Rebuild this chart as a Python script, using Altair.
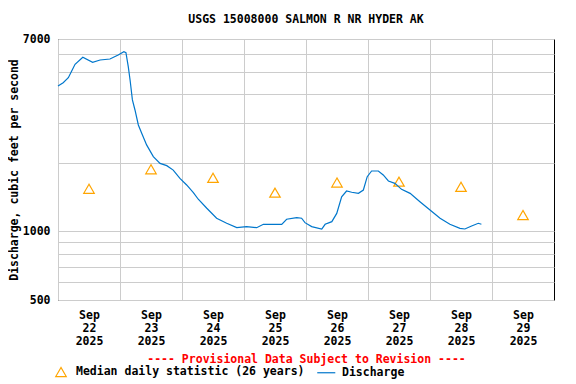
import altair as alt
import pandas as pd

FONT = "DejaVu Sans Mono"
MED = "Median daily statistic (26 years)"
DIS = "Discharge"

# Discharge (cfs): hours after 2025-09-22 00:00 and values
hours = [0, 2.0, 4.0, 5.3, 6.6, 9.6, 13.4, 16.3, 20.1, 23.3,
         25.5, 26.3, 27.2, 27.9, 28.8, 29.8, 31.1, 32.4, 34.3, 36.9,
         39.5, 42.1, 44.6, 47.2, 49.8, 52.4, 54.3, 57.6, 61.4, 65.3,
         69.2, 73.0, 76.9, 79.5, 86.6, 88.5, 92.4, 94.3, 95.6, 98.2,
         102.1, 103.4, 106.0, 107.9, 109.8, 111.7, 113.7, 116.3, 118.2, 119.7,
         121.4, 124.0, 125.9, 127.9, 130.4, 133.0, 136.3, 140.1, 144.0, 147.9,
         151.7, 155.6, 157.5, 160.1, 162.7, 163.9]
discharge = [4350, 4500, 4735, 5065, 5420, 5820, 5530, 5660, 5720, 5955,
             6160, 6095, 5290, 4625, 3780, 3415, 2935, 2700, 2400, 2130,
             1990, 1945, 1860, 1710, 1600, 1480, 1385, 1264, 1143, 1086,
             1039, 1050, 1039, 1075, 1075, 1131, 1149, 1143, 1093, 1050,
             1025, 1075, 1104, 1200, 1420, 1505, 1486, 1470, 1520, 1740,
             1843, 1843, 1770, 1666, 1627, 1531, 1470, 1351, 1242, 1143,
             1075, 1032, 1025, 1057, 1086, 1075]

# Median daily statistic, at noon of each day
median_days = [22, 23, 24, 25, 26, 27, 28, 29]
median_vals = [1540, 1875, 1720, 1480, 1640, 1655, 1570, 1180]

y_grid = [500, 600, 700, 800, 900, 1000, 2000, 3000, 4000, 5000, 6000, 7000]
y_labels = [500, 1000, 7000]
x_days = [22, 23, 24, 25, 26, 27, 28, 29]

start = pd.Timestamp("2025-09-22 00:00")
df_q = pd.DataFrame({
    "time": [start + pd.Timedelta(hours=h) for h in hours],
    "value": discharge,
    "series": DIS,
})
df_m = pd.DataFrame({
    "time": [pd.Timestamp(2025, 9, d, 12) for d in median_days],
    "value": median_vals,
    "series": MED,
})

x_enc = alt.X(
    "time:T",
    scale=alt.Scale(domain=[alt.DateTime(year=2025, month=9, date=22),
                            alt.DateTime(year=2025, month=9, date=30)]),
    axis=alt.Axis(
        values=[alt.DateTime(year=2025, month=9, date=d) for d in x_days],
        labelExpr="[timeFormat(datum.value, '%b'), timeFormat(datum.value, '%d'), timeFormat(datum.value, '%Y')]",
        labelOffset=31, labelPadding=9, labelLineHeight=13,
        labelFlush=False, labelOverlap=False, labelBound=False,
        ticks=False, domain=False, grid=True,
        title="---- Provisional Data Subject to Revision ----",
        titleColor="#FF0000", titlePadding=7,
    ),
)
label_test = " || ".join(f"datum.value == {v}" for v in y_labels)
y_enc = alt.Y(
    "value:Q",
    scale=alt.Scale(type="log", domain=[500, 7000], nice=False),
    axis=alt.Axis(
        values=y_grid,
        labelExpr=f"({label_test}) ? format(datum.value, 'd') : ''",
        labelFlush=False, labelOverlap=False, labelPadding=8,
        ticks=False, domain=False, grid=True,
        title="Discharge, cubic feet per second", titlePadding=3,
    ),
)
legend = alt.Legend(
    title=None, orient="none", direction="horizontal",
    legendX=-3, legendY=327, padding=0,
    labelFont=FONT, labelFontWeight="bold", labelFontSize=11.5, labelColor="black",
    labelOffset=9, labelLimit=400, columnPadding=9, symbolOpacity=1, symbolSize=110,
    symbolStrokeWidth=1.2, symbolFillColor="transparent",
)
color_enc = alt.Color(
    "series:N",
    scale=alt.Scale(domain=[MED, DIS], range=["#FFA500", "#0077CC"]),
    legend=legend,
)
shape_enc = alt.Shape(
    "series:N",
    scale=alt.Scale(domain=[MED, DIS], range=["triangle-up", "M-1.86,0L1.58,0"]),
    legend=legend,
)

line = alt.Chart(df_q).mark_line(strokeWidth=1.2).encode(
    x=x_enc, y=y_enc, color=color_enc)
pts = alt.Chart(df_m).mark_point(filled=False, size=110,
                                 opacity=1, strokeWidth=1.2).encode(
    x=x_enc, y=y_enc, color=color_enc, shape=shape_enc)

chart = alt.layer(pts, line).properties(
    width=496, height=261, autosize="none",
    padding={"left": 50, "top": 31, "right": 10, "bottom": 82},
    title=alt.TitleParams("USGS 15008000 SALMON R NR HYDER AK", frame="group",
                          offset=8, font=FONT, fontSize=11.5, fontWeight="bold"),
).configure(background="white").configure_view(
    stroke="black", strokeWidth=1
).configure_axis(
    gridColor="#cccccc", gridWidth=1, gridOpacity=1,
    labelFont=FONT, labelFontSize=11.5, labelFontWeight="bold", labelColor="black",
    titleFont=FONT, titleFontSize=11.5, titleFontWeight="bold",
).configure_axisY(titleColor="black")

chart.save("out.html", embed_options={"renderer": "svg", "actions": False})
